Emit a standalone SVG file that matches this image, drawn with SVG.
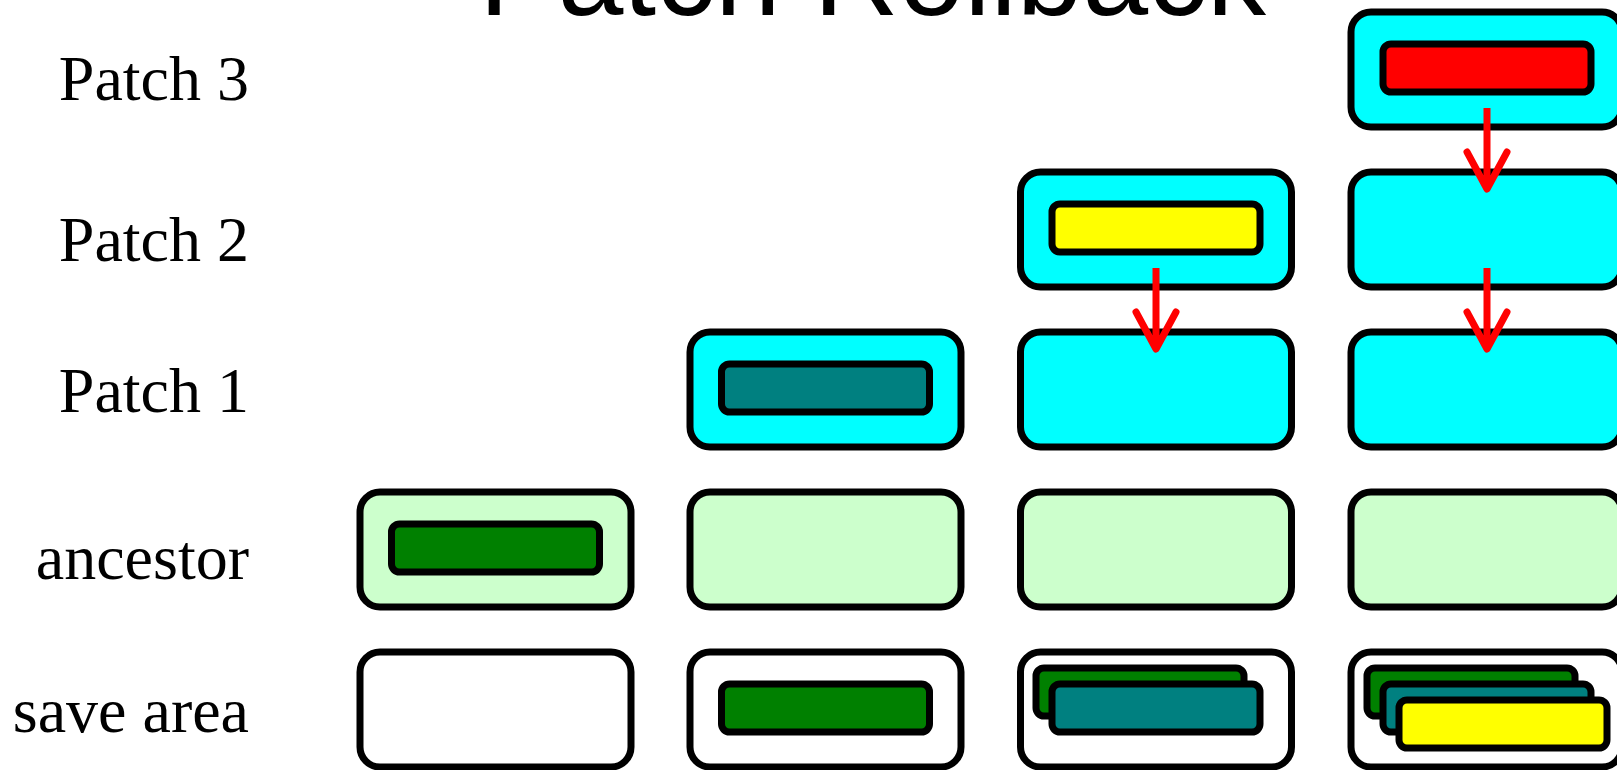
<svg xmlns="http://www.w3.org/2000/svg" width="1617" height="770" viewBox="0 0 1617 770">
<defs>
<style>
.box{stroke:#000;stroke-width:7}
.outer{rx:20px;ry:20px}
.inner{rx:8px;ry:8px}
.cyan{fill:#00ffff}
.lg{fill:#ccffcc}
.wh{fill:#ffffff}
.g{fill:#008000}
.t{fill:#008080}
.y{fill:#ffff00}
.r{fill:#ff0000}
.lbl{font-family:"Liberation Serif","Times New Roman",serif;font-size:64px;fill:#000;text-anchor:end}
.title{font-family:"Liberation Sans",Arial,sans-serif;font-size:118px;fill:#000;text-anchor:middle}
.arr{stroke:#ff0000;stroke-width:7;fill:none;stroke-linejoin:round}
.head{stroke-linecap:round}
</style>
</defs>
<rect width="1617" height="770" fill="#ffffff"/>
<text class="title" x="872.5" y="15">Patch Rollback</text>
<g id="labels">
<text class="lbl" x="249" y="100">Patch 3</text>
<text class="lbl" x="249" y="261">Patch 2</text>
<text class="lbl" x="249" y="412">Patch 1</text>
<text class="lbl" x="249" y="579">ancestor</text>
<text class="lbl" x="249" y="732">save area</text>
</g>
<g id="col1-ancestor"><rect class="box outer lg" x="360" y="492" width="271" height="115"/><rect class="box inner g" x="391.5" y="524" width="208" height="48"/></g>
<g id="col1-save"><rect class="box outer wh" x="360" y="652" width="271" height="115"/></g>
<g id="col2-patch1"><rect class="box outer cyan" x="690" y="332" width="271" height="115"/><rect class="box inner t" x="721.5" y="364" width="208" height="48"/></g>
<g id="col2-ancestor"><rect class="box outer lg" x="690" y="492" width="271" height="115"/></g>
<g id="col2-save"><rect class="box outer wh" x="690" y="652" width="271" height="115"/><rect class="box inner g" x="721.5" y="684" width="208" height="48"/></g>
<g id="col3-patch2"><rect class="box outer cyan" x="1020.5" y="172" width="271" height="115"/><rect class="box inner y" x="1052" y="204" width="208" height="48"/></g>
<g id="col3-patch1"><rect class="box outer cyan" x="1020.5" y="332" width="271" height="115"/></g>
<g id="col3-ancestor"><rect class="box outer lg" x="1020.5" y="492" width="271" height="115"/></g>
<g id="col3-save"><rect class="box outer wh" x="1020.5" y="652" width="271" height="115"/><rect class="box inner g" x="1036" y="668" width="208" height="48"/><rect class="box inner t" x="1052" y="684" width="208" height="48"/></g>
<g id="col4-patch3"><rect class="box outer cyan" x="1351" y="12" width="271" height="115"/><rect class="box inner r" x="1383" y="44" width="208" height="48"/></g>
<g id="col4-patch2"><rect class="box outer cyan" x="1351" y="172" width="271" height="115"/></g>
<g id="col4-patch1"><rect class="box outer cyan" x="1351" y="332" width="271" height="115"/></g>
<g id="col4-ancestor"><rect class="box outer lg" x="1351" y="492" width="271" height="115"/></g>
<g id="col4-save"><rect class="box outer wh" x="1351" y="652" width="271" height="115"/><rect class="box inner g" x="1367" y="668" width="208" height="48"/><rect class="box inner t" x="1383" y="684" width="208" height="48"/><rect class="box inner y" x="1399" y="700" width="208" height="48"/></g>
<g id="connectors">
<line class="arr" x1="1487" y1="108" x2="1487" y2="188"/>
<polyline class="arr head" points="1467,152 1487,189 1507,152"/>
<line class="arr" x1="1487" y1="268" x2="1487" y2="348"/>
<polyline class="arr head" points="1467,312 1487,349 1507,312"/>
<line class="arr" x1="1156" y1="268" x2="1156" y2="348"/>
<polyline class="arr head" points="1136,312 1156,349 1176,312"/>
</g>
</svg>
